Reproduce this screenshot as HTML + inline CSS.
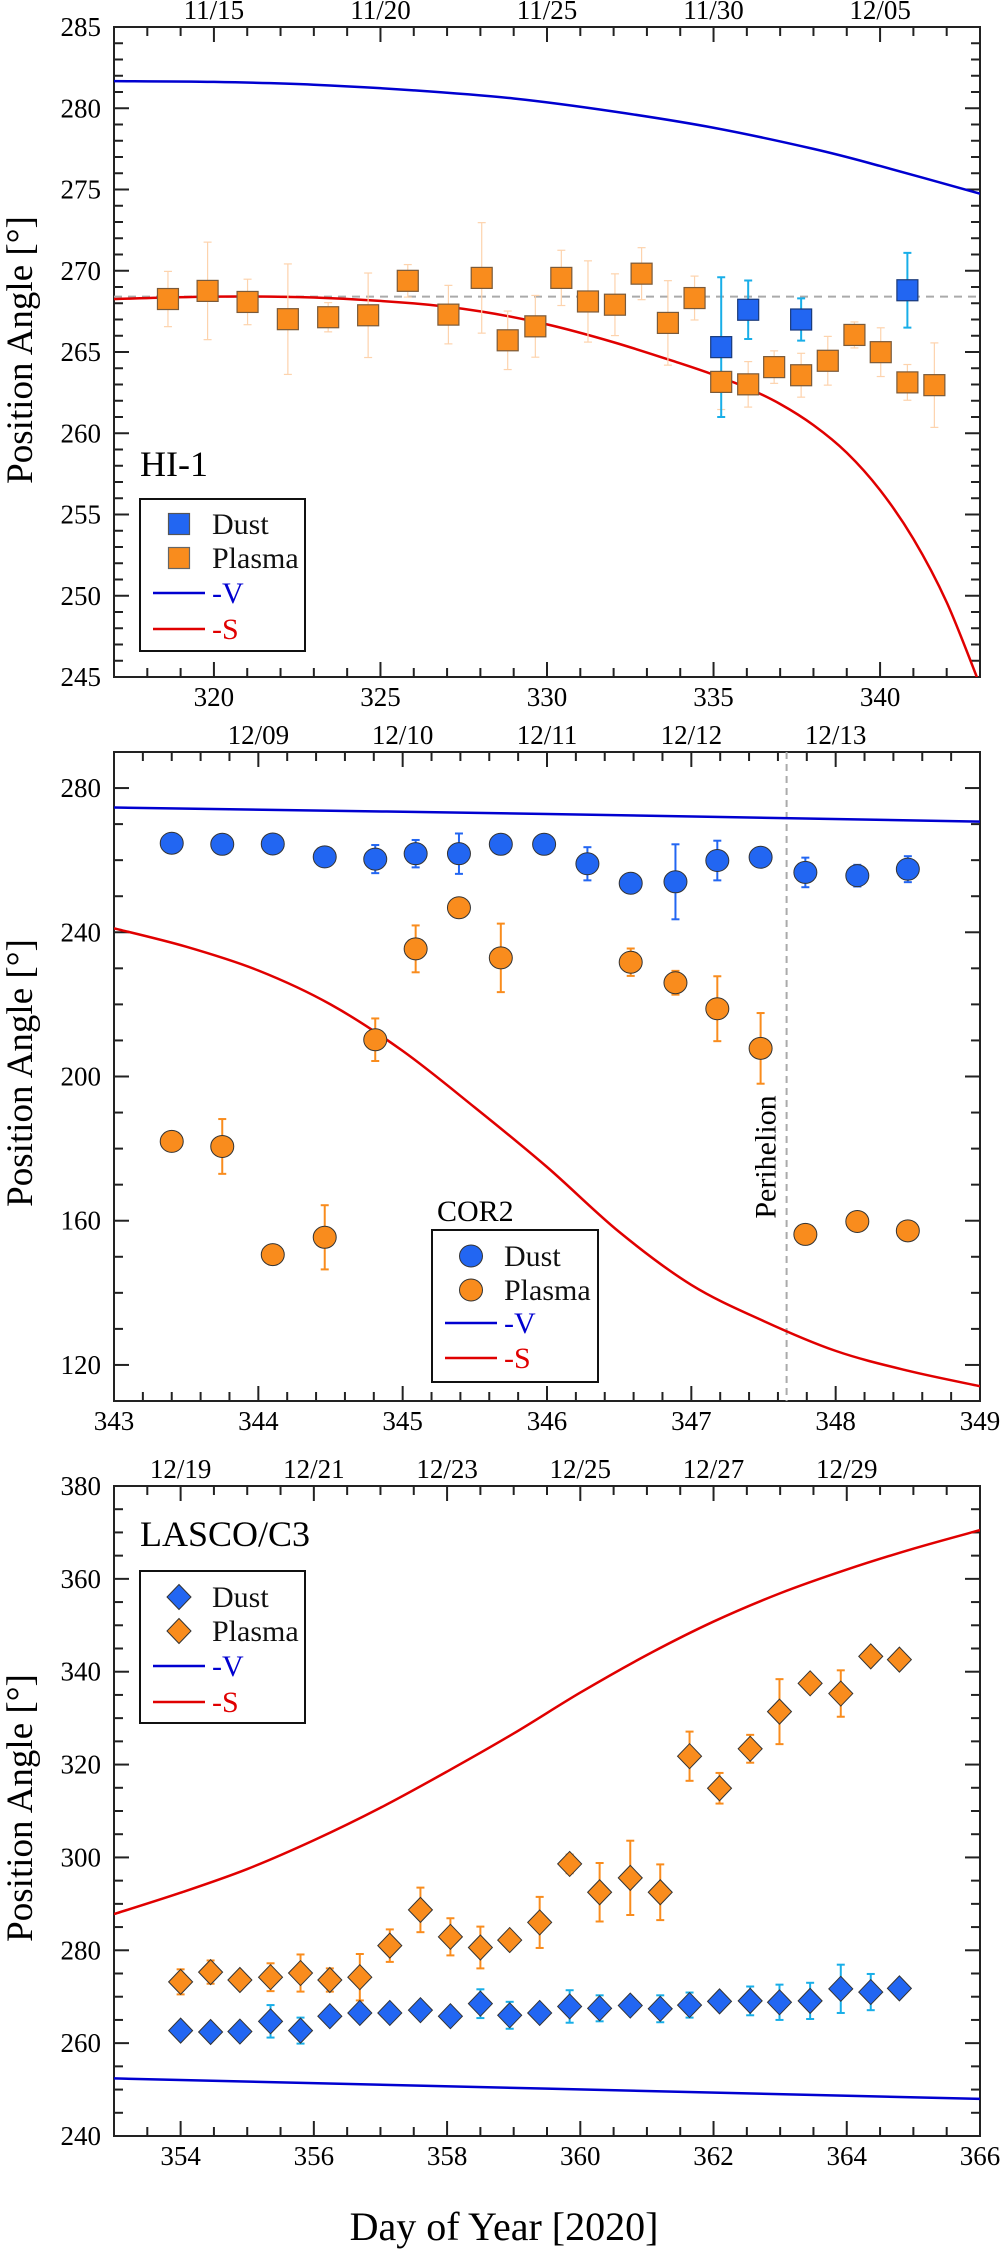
<!DOCTYPE html>
<html><head><meta charset="utf-8">
<style>
html,body{margin:0;padding:0;background:#fff;}
svg{display:block;font-family:"Liberation Serif",serif;}
</style></head>
<body>
<svg id="fig" width="1000" height="2250" viewBox="0 0 1000 2250" xmlns="http://www.w3.org/2000/svg">
<defs>
<clipPath id="clip1"><rect x="114" y="27" width="866" height="650"/></clipPath>
<clipPath id="clip2"><rect x="114" y="752" width="866" height="649"/></clipPath>
<clipPath id="clip3"><rect x="114" y="1486" width="866" height="650"/></clipPath>
</defs>
<text x="504" y="2240" font-size="40" text-anchor="middle" font-family="Liberation Serif, serif">Day of Year [2020]</text>
</svg>
<script>
// ---------- Panel 1: HI-1 ----------
const p1DustDays = [335.23, 336.04, 337.63, 340.82];
const p1DustVals = [265.3, 267.6, 267.0, 268.8];
const p1DustErr = [4.3, 1.8, 1.3, 2.3];
const p1PlasmaDays = [318.62,319.81,321.01,322.22,323.43,324.63,325.82,327.04,328.04,328.82,329.65,330.43,331.23,332.04,332.84,333.63,334.43,335.23,336.04,336.82,337.63,338.43,339.23,340.02,340.82,341.63];
const p1PlasmaVals = [268.26,268.76,268.08,267.02,267.14,267.26,269.38,267.3,269.56,265.72,266.58,269.56,268.11,267.91,269.82,266.79,268.32,263.16,263.01,264.07,263.57,264.46,266.05,264.99,263.13,262.96];
const p1PlasmaErr = [1.7,3,1.4,3.4,0.9,2.6,1,1.8,3.4,1.8,1.9,1.7,2.5,1.9,1.6,2.6,1.35,1.7,1.4,1,1.35,1.5,0.8,1.5,1.1,2.6];
const p1VDays = [317,320,323,326,329,332,335,338,340,343];
const p1VVals = [281.67,281.62,281.45,281.1,280.6,279.8,278.8,277.5,276.45,274.74];
const p1SDays = [317,320,323,326,328,330,332,334,335,336,337,338,339,340,341,342,343];
const p1SVals = [268.26,268.41,268.35,267.99,267.5,266.7,265.6,264.3,263.6,262.8,261.8,260.5,258.8,256.5,253.5,249.6,244.5];
const p1RefLine = 268.41;
const p1XTicks = [320,325,330,335,340];
const p1YTicks = [245,250,255,260,265,270,275,280,285];
const p1Dates = ['11/15','11/20','11/25','11/30','12/05'];
const p1DateDays = [320,325,330,335,340];

// ---------- Panel 2: COR2 ----------
const p2DustDays = [343.40,343.75,344.10,344.46,344.81,345.09,345.39,345.68,345.98,346.28,346.58,346.89,347.18,347.48,347.79,348.15,348.50];
const p2DustVals = [264.7,264.4,264.5,260.9,260.3,261.8,261.8,264.4,264.4,259.0,253.6,254.0,259.9,260.8,256.6,255.7,257.5];
const p2DustErr = [0,0,0,0,3.9,3.8,5.6,0,0,4.6,0,10.4,5.5,0,4.1,3,3.6];
const p2PlasmaDays = [343.40,343.75,344.10,344.46,344.81,345.09,345.39,345.68,346.58,346.89,347.18,347.48,347.79,348.15,348.50];
const p2PlasmaVals = [182.0,180.6,150.6,155.4,210.2,235.4,246.8,232.9,231.7,226.0,218.8,207.8,156.2,159.8,157.2];
const p2PlasmaErr = [0,7.6,0,8.9,5.9,6.5,0,9.5,3.8,3.3,9,9.8,0,0,0];
const p2VDays = [343,346,349];
const p2VVals = [274.6,272.8,270.7];
const p2SDays = [343,343.5,344,344.5,345,345.5,346,346.5,347,347.5,348,348.5,349];
const p2SVals = [241.1,236.0,229.4,220,207.1,191.4,174.9,156.9,142.2,132.2,123.9,118.4,114.1];
const p2Perihelion = 347.66;
const p2XTicks = [343,344,345,346,347,348,349];
const p2YTicks = [120,160,200,240,280];
const p2Dates = ['12/09','12/10','12/11','12/12','12/13'];
const p2DateDays = [344,345,346,347,348];

// ---------- Panel 3: LASCO/C3 ----------
const p3Days = [354.00,354.45,354.89,355.35,355.80,356.24,356.69,357.14,357.60,358.05,358.50,358.94,359.39,359.84,360.29,360.75,361.20,361.64,362.09,362.55,362.99,363.45,363.91,364.36,364.79];
const p3DustVals = [262.7,262.4,262.5,264.7,262.7,265.8,266.5,266.5,267.1,265.8,268.5,266.0,266.5,267.9,267.5,268.1,267.4,268.2,269.0,269.1,268.8,269.1,271.7,271.0,271.8];
const p3DustErr = [0,0,0,3.5,2.8,1.5,1.5,0,0,0,3.1,2.9,0,3.5,2.8,0,2.9,2.7,0,3.1,3.8,3.9,5.2,3.9,0];
const p3PlasmaVals = [273.2,275.3,273.6,274.2,275.1,273.6,274.2,281.0,288.7,282.9,280.6,282.2,286.0,298.6,292.5,295.6,292.5,321.8,314.9,323.4,331.4,337.5,335.3,343.3,342.6];
const p3PlasmaErr = [2.7,2.5,0,3,4,2.5,5,3.5,4.8,4,4.5,0,5.5,2,6.3,8,6,5.3,3.3,3,7,0,5,0,0];
const p3VDays = [353,366];
const p3VVals = [252.4,248.0];
const p3SDays = [353,354,355,356,357,358,359,360,361,362,363,364,365,366];
const p3SVals = [287.8,292.4,297.5,303.7,310.7,318.5,326.7,335.5,343.6,350.8,356.9,362.0,366.5,370.5];
const p3XTicks = [354,356,358,360,362,364,366];
const p3YTicks = [240,260,280,300,320,340,360,380];
const p3Dates = ['12/19','12/21','12/23','12/25','12/27','12/29'];
const p3DateDays = [354,356,358,360,362,364];

const NS = 'http://www.w3.org/2000/svg';
const svg = document.getElementById('fig');
const BLUE = '#2266f2', ORANGE = '#f98c1d';

function mk(tag, attrs, parent) {
  const e = document.createElementNS(NS, tag);
  for (const k in attrs) e.setAttribute(k, attrs[k]);
  (parent || svg).appendChild(e);
  return e;
}

function scales(c) {
  c.sx = v => c.L + (v - c.x0) / (c.x1 - c.x0) * (c.R - c.L);
  c.sy = v => c.B - (v - c.y0) / (c.y1 - c.y0) * (c.B - c.T);
}

function smoothPath(xs, ys, c) {
  const P = xs.map((x, i) => [c.sx(x), c.sy(ys[i])]);
  let d = 'M' + P[0][0].toFixed(2) + ',' + P[0][1].toFixed(2);
  for (let i = 0; i < P.length - 1; i++) {
    const p0 = P[i - 1] || P[i], p1 = P[i], p2 = P[i + 1], p3 = P[i + 2] || P[i + 1];
    const c1 = [p1[0] + (p2[0] - p0[0]) / 6, p1[1] + (p2[1] - p0[1]) / 6];
    const c2 = [p2[0] - (p3[0] - p1[0]) / 6, p2[1] - (p3[1] - p1[1]) / 6];
    d += 'C' + c1.map(v => v.toFixed(2)).join(',') + ' ' + c2.map(v => v.toFixed(2)).join(',') + ' ' + p2[0].toFixed(2) + ',' + p2[1].toFixed(2);
  }
  return d;
}

function axes(c, g) {
  const frame = mk('rect', {x: c.L, y: c.T, width: c.R - c.L, height: c.B - c.T, fill: 'none', stroke: '#222', 'stroke-width': 2}, g);
  
  
  const tg = mk('g', {stroke: '#222', 'stroke-width': 2}, g);
  
  
  const nx = Math.round((c.x1 - c.x0) / c.xMinor);
  for (let i = 0; i <= nx; i++) {
    const v = c.x0 + i * c.xMinor;
    const r = v / c.xMajor;
    const major = Math.abs(r - Math.round(r)) < 1e-6;
    const len = major ? 15 : 9;
    const x = c.sx(v);
    if (i === 0 || i === nx) continue;
    mk('line', {x1: x, y1: c.B, x2: x, y2: c.B - len}, tg);
    mk('line', {x1: x, y1: c.T, x2: x, y2: c.T + len}, tg);
  }
  const ny = Math.round((c.y1 - c.y0) / c.yMinor);
  for (let i = 0; i <= ny; i++) {
    const v = c.y0 + i * c.yMinor;
    const r = (v - c.yBase) / c.yMajor;
    const major = Math.abs(r - Math.round(r)) < 1e-6;
    const len = major ? 15 : 9;
    const y = c.sy(v);
    if (i === 0 || i === ny) continue;
    mk('line', {x1: c.L, y1: y, x2: c.L + len, y2: y}, tg);
    mk('line', {x1: c.R, y1: y, x2: c.R - len, y2: y}, tg);
  }
  c.xTicks.forEach(v => {
    const t = mk('text', {x: c.sx(v), y: c.B + 29, 'font-size': 27, 'text-anchor': 'middle'}, g);
    t.textContent = v;
    
    
  });
  c.yTicks.forEach(v => {
    const t = mk('text', {x: 101, y: c.sy(v) + 9, 'font-size': 27, 'text-anchor': 'end'}, g);
    t.textContent = v;
    
    
  });
  c.dates.forEach((d, i) => {
    const t = mk('text', {x: c.sx(c.dateDays[i]), y: c.T - 8, 'font-size': 27, 'text-anchor': 'middle'}, g);
    t.textContent = d;
    
    
  });
  const yt = mk('text', {x: 0, y: 0, 'font-size': 37, 'text-anchor': 'middle', transform: 'translate(32,' + c.titleY + ') rotate(-90)'}, g);
  yt.textContent = 'Position Angle [°]';
  
  
}

function curve(c, g, xs, ys, color, name, clip) {
  const p = mk('path', {d: smoothPath(xs, ys, c), fill: 'none', stroke: color, 'stroke-width': 2.5, 'clip-path': 'url(#' + clip + ')'}, g);
  
  
}

function errBar(c, g, x, y, e, color, w) {
  if (!e) return;
  const X = c.sx(x), y1 = c.sy(y + e), y2 = c.sy(y - e);
  const eg = mk('g', {stroke: color, 'stroke-width': w}, g);
  
  
  mk('line', {x1: X, y1: y1, x2: X, y2: y2}, eg);
  mk('line', {x1: X - 4, y1: y1, x2: X + 4, y2: y1}, eg);
  mk('line', {x1: X - 4, y1: y2, x2: X + 4, y2: y2}, eg);
}

function marker(g, shape, X, Y, fill, stroke, name) {
  let m;
  if (shape === 'square') m = mk('rect', {x: X - 10.5, y: Y - 10.5, width: 21, height: 21, fill: fill, stroke: stroke, 'stroke-width': 1.2}, g);
  else if (shape === 'circle') m = mk('ellipse', {cx: X, cy: Y, rx: 11.5, ry: 11, fill: fill, stroke: '#333', 'stroke-width': 1}, g);
  else m = mk('polygon', {points: (X) + ',' + (Y - 12.5) + ' ' + (X + 12) + ',' + Y + ' ' + X + ',' + (Y + 12.5) + ' ' + (X - 12) + ',' + Y, fill: fill, stroke: '#333', 'stroke-width': 1}, g);
  
  
  return m;
}

function legend(g, bx, by, bw, bh, rows, shape, lineX, textX) {
  const lg = mk('g', {}, g);
  
  
  mk('rect', {x: bx, y: by, width: bw, height: bh, fill: '#fff', stroke: '#111', 'stroke-width': 2}, lg);
  const mx = lineX + 26;
  marker(lg, shape, mx, rows[0], BLUE, '#555', 'legend-dust-marker');
  marker(lg, shape, mx, rows[1], ORANGE, '#666', 'legend-plasma-marker');
  mk('line', {x1: lineX, y1: rows[2], x2: lineX + 52, y2: rows[2], stroke: '#0000d0', 'stroke-width': 2.5}, lg);
  mk('line', {x1: lineX, y1: rows[3], x2: lineX + 52, y2: rows[3], stroke: '#e00000', 'stroke-width': 2.5}, lg);
  const labels = [['Dust', '#111', 'legend-entry-dust'], ['Plasma', '#111', 'legend-entry-plasma'], ['-V', '#0000d0', 'legend-entry-v'], ['-S', '#e00000', 'legend-entry-s']];
  labels.forEach((l, i) => {
    const t = mk('text', {x: textX, y: rows[i] + 10, 'font-size': 30, fill: l[1]}, lg);
    t.textContent = l[0];
    
    
  });
}

// ===== Panel 1 =====
const c1 = {L: 114, R: 980, T: 27, B: 677, x0: 317, x1: 343, y0: 245, y1: 285, xMinor: 1, xMajor: 5, yMinor: 1, yMajor: 5, yBase: 245,
  xTicks: p1XTicks, yTicks: p1YTicks, dates: p1Dates, dateDays: p1DateDays, titleY: 350};
scales(c1);
const g1 = mk('g', {});


axes(c1, g1);
const ref1 = mk('line', {x1: c1.L, x2: c1.R, y1: c1.sy(p1RefLine), y2: c1.sy(p1RefLine), stroke: '#aaa', 'stroke-width': 2, 'stroke-dasharray': '8,6'}, g1);


curve(c1, g1, p1VDays, p1VVals, '#0000d0', 'curve-minus-v', 'clip1');
curve(c1, g1, p1SDays, p1SVals, '#e00000', 'curve-minus-s', 'clip1');
p1PlasmaDays.forEach((d, i) => errBar(c1, g1, d, p1PlasmaVals[i], p1PlasmaErr[i], '#fdd3ad', 1.2));
p1DustDays.forEach((d, i) => errBar(c1, g1, d, p1DustVals[i], p1DustErr[i], '#18aee8', 2));
p1PlasmaDays.forEach((d, i) => marker(g1, 'square', c1.sx(d), c1.sy(p1PlasmaVals[i]), ORANGE, '#7a5a3a', 'plasma-point'));
p1DustDays.forEach((d, i) => marker(g1, 'square', c1.sx(d), c1.sy(p1DustVals[i]), BLUE, '#1a3a7a', 'dust-point'));
const lab1 = mk('text', {x: 140, y: 476, 'font-size': 36}, g1);
lab1.textContent = 'HI-1';


legend(g1, 140, 499, 165, 152, [524, 558, 593, 629], 'square', 153, 212);

// ===== Panel 2 =====
const c2 = {L: 114, R: 980, T: 752, B: 1401, x0: 343, x1: 349, y0: 110, y1: 290, xMinor: 0.2, xMajor: 1, yMinor: 10, yMajor: 40, yBase: 120,
  xTicks: p2XTicks, yTicks: p2YTicks, dates: p2Dates, dateDays: p2DateDays, titleY: 1073};
scales(c2);
const g2 = mk('g', {});


axes(c2, g2);
const per = mk('line', {x1: c2.sx(p2Perihelion), x2: c2.sx(p2Perihelion), y1: c2.T, y2: c2.B, stroke: '#aaa', 'stroke-width': 2, 'stroke-dasharray': '7,5'}, g2);


const perT = mk('text', {x: 0, y: 0, 'font-size': 30, 'text-anchor': 'middle', transform: 'translate(' + (c2.sx(p2Perihelion) - 11) + ',1157) rotate(-90)'}, g2);
perT.textContent = 'Perihelion';


curve(c2, g2, p2VDays, p2VVals, '#0000d0', 'curve-minus-v', 'clip2');
curve(c2, g2, p2SDays, p2SVals, '#e00000', 'curve-minus-s', 'clip2');
p2DustDays.forEach((d, i) => errBar(c2, g2, d, p2DustVals[i], p2DustErr[i], '#2266f2', 2));
p2PlasmaDays.forEach((d, i) => errBar(c2, g2, d, p2PlasmaVals[i], p2PlasmaErr[i], '#f98c1d', 2));
p2DustDays.forEach((d, i) => marker(g2, 'circle', c2.sx(d), c2.sy(p2DustVals[i]), BLUE, '#333', 'dust-point'));
p2PlasmaDays.forEach((d, i) => marker(g2, 'circle', c2.sx(d), c2.sy(p2PlasmaVals[i]), ORANGE, '#333', 'plasma-point'));
const lab2 = mk('text', {x: 437, y: 1221, 'font-size': 30}, g2);
lab2.textContent = 'COR2';


legend(g2, 432, 1230, 166, 152, [1256, 1290, 1323, 1358], 'circle', 445, 504);

// ===== Panel 3 =====
const c3 = {L: 114, R: 980, T: 1486, B: 2136, x0: 353, x1: 366, y0: 240, y1: 380, xMinor: 0.5, xMajor: 2, yMinor: 5, yMajor: 20, yBase: 240,
  xTicks: p3XTicks, yTicks: p3YTicks, dates: p3Dates, dateDays: p3DateDays, titleY: 1808};
scales(c3);
const g3 = mk('g', {});


axes(c3, g3);
curve(c3, g3, p3VDays, p3VVals, '#0000d0', 'curve-minus-v', 'clip3');
curve(c3, g3, p3SDays, p3SVals, '#e00000', 'curve-minus-s', 'clip3');
p3Days.forEach((d, i) => errBar(c3, g3, d, p3DustVals[i], p3DustErr[i], '#18aee8', 2));
p3Days.forEach((d, i) => errBar(c3, g3, d, p3PlasmaVals[i], p3PlasmaErr[i], '#f98c1d', 2));
p3Days.forEach((d, i) => marker(g3, 'diamond', c3.sx(d), c3.sy(p3DustVals[i]), BLUE, '#333', 'dust-point'));
p3Days.forEach((d, i) => marker(g3, 'diamond', c3.sx(d), c3.sy(p3PlasmaVals[i]), ORANGE, '#333', 'plasma-point'));
const lab3 = mk('text', {x: 140, y: 1546, 'font-size': 36}, g3);
lab3.textContent = 'LASCO/C3';


legend(g3, 140, 1571, 165, 152, [1597, 1631, 1666, 1702], 'diamond', 153, 212);
</script>
</body></html>
